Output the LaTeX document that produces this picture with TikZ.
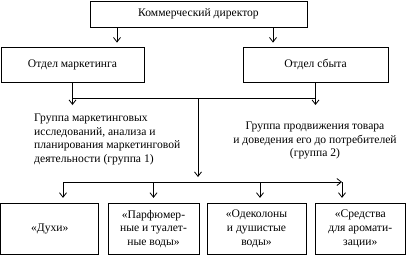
\documentclass[tikz,border=0pt]{standalone}
\usepackage{fontspec}
\setmainfont{Liberation Serif}
\usetikzlibrary{arrows.meta}
\begin{document}
\begin{tikzpicture}[x=1pt,y=-1pt,
  box/.style={draw, line width=0.8pt, inner sep=0pt, align=center,
    font=\fontsize{11.6}{13.6}\selectfont},
  txt/.style={inner sep=0pt, font=\fontsize{11.6}{13.4}\selectfont},
  ln/.style={line width=0.8pt},
  arr/.style={line width=0.8pt, -{Straight Barb[length=4.5pt,width=7pt]}}]
\useasboundingbox (0,0) rectangle (406,255);
% boxes
\node[box, minimum width=217pt, minimum height=26pt] (cd) at (198.5,14) {Коммерческий директор};
\node[box, minimum width=143pt, minimum height=35pt] (mk) at (72.5,64.5) {Отдел маркетинга};
\node[box, minimum width=145pt, minimum height=35pt] (sb) at (315.5,64.5) {Отдел сбыта};
\node[box, minimum width=98pt, minimum height=51pt] (b1) at (49.75,228.75) {«Духи»};
\node[box, minimum width=91pt, minimum height=51pt] (b2) at (153.5,228.75) {«Парфюмер-\\ные и туалет-\\ные воды»};
\node[box, minimum width=99pt, minimum height=51pt] (b3) at (256.5,228.75) {«Одеколоны\\и душистые\\воды»};
\node[box, minimum width=90pt, minimum height=51pt] (b4) at (360.25,228.75) {«Средства\\для аромати-\\зации»};
% group texts
\node[txt, align=left, anchor=north west] (g1) at (34,114) {Группа маркетинговых\\исследований, анализа и\\планирования маркетинговой\\деятельности (группа 1)};
\node[txt, align=center, anchor=north] (g2) at (315,122) {Группа продвижения товара\\и доведения его до потребителей\\(группа 2)};
% helper coordinates
\coordinate (x1) at (117,0);
\coordinate (x2) at (273,0);
\coordinate (h1) at (0,98);
\coordinate (t1) at (0,105);
\coordinate (m) at (198,177);
\coordinate (h2) at (0,182);
\coordinate (hr) at (342,182);
% arrows from director
\draw[arr] (cd.south -| x1) -- ([yshift=4pt]mk.north -| x1);
\draw[arr] (cd.south -| x2) -- ([yshift=4pt]sb.north -| x2);
% departments to groups
\draw[arr] (mk.south) -- (t1 -| mk.south);
\draw[arr] (sb.south) -- (t1 -| sb.south);
\draw[ln] (h1 -| mk.south) -- (h1 -| sb.south);
\draw[arr] (h1 -| m) -- (m);
% bottom distribution
\draw[arr] (h2 -| 63,0) -- (hr);
\draw[arr] (h2 -| 63,0) -- ([yshift=5pt]b1.north -| 63,0);
\draw[arr] (h2 -| b2.north) -- ([yshift=5pt]b2.north);
\draw[arr] (h2 -| 260,0) -- ([yshift=5pt]b3.north -| 260,0);
\draw[arr] (hr) -- ([yshift=5pt]b4.north -| hr);
\end{tikzpicture}
\end{document}
